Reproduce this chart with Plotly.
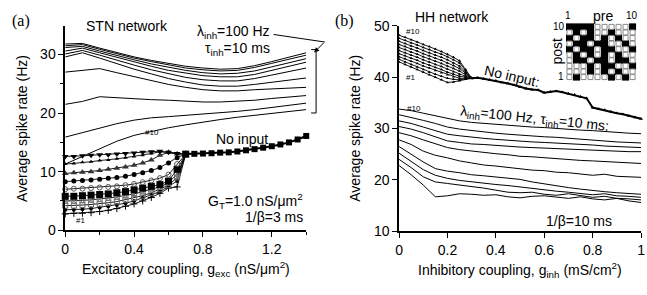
import plotly.graph_objects as go

W, H = 647, 295
FONT = "Liberation Sans, Arial, sans-serif"
SERIF = "Liberation Serif, Times New Roman, serif"

# ---------------- Panel (a) data ----------------
xa_lam = [0, 0.1, 0.2, 0.3, 0.4, 0.5, 0.6, 0.7, 0.8, 0.9, 1.0, 1.1, 1.2, 1.3, 1.4]
a_lam_1 = [11.3, 12.6, 14.0, 15.2, 16.2, 16.9, 17.5, 18.0, 18.5, 18.9, 19.3, 19.6, 19.9, 20.2, 20.6]
a_lam_2 = [15.9, 16.7, 17.5, 18.2, 18.8, 19.2, 19.4, 19.6, 19.8, 20.0, 20.3, 20.6, 21.0, 21.3, 21.7]
a_lam_3 = [21.5, 22.0, 22.8, 22.6, 22.4, 22.3, 22.2, 22.0, 21.9, 21.9, 22.0, 22.2, 22.5, 22.8, 23.0]
a_lam_4 = [27.0, 27.3, 27.6, 26.9, 26.2, 25.5, 24.9, 24.4, 24.0, 23.8, 23.8, 24.0, 24.1, 24.3, 24.4]
a_lam_5 = [29.6, 30.3, 29.4, 28.4, 27.5, 26.7, 25.9, 25.3, 24.8, 24.6, 24.6, 24.9, 25.3, 25.7, 26.0]
a_lam_6 = [30.1, 30.7, 29.9, 29.0, 28.2, 27.4, 26.7, 26.1, 25.7, 25.5, 25.5, 25.9, 26.5, 27.1, 27.7]
a_lam_7 = [30.6, 31.1, 30.3, 29.5, 28.7, 28.0, 27.3, 26.8, 26.4, 26.2, 26.2, 26.6, 27.3, 28.0, 28.7]
a_lam_8 = [31.2, 31.4, 30.6, 29.8, 29.1, 28.4, 27.8, 27.3, 26.9, 26.7, 26.8, 27.2, 27.9, 28.6, 29.3]
a_lam_9 = [31.5, 31.7, 30.9, 30.1, 29.4, 28.8, 28.2, 27.7, 27.4, 27.2, 27.3, 27.8, 28.5, 29.2, 29.9]
a_lam_10 = [31.8, 31.9, 31.1, 30.3, 29.6, 29.0, 28.5, 28.0, 27.7, 27.5, 27.6, 28.1, 28.8, 29.5, 30.3]
a_lam = [a_lam_1, a_lam_2, a_lam_3, a_lam_4, a_lam_5, a_lam_6, a_lam_7, a_lam_8, a_lam_9, a_lam_10]

xa_noin = [0, 0.05, 0.1, 0.15, 0.2, 0.25, 0.3, 0.35, 0.4, 0.45, 0.5, 0.55, 0.6, 0.65, 0.7]
a_noin_1 = [2.8, 2.9, 2.9, 3.0, 3.2, 3.4, 3.7, 4.1, 4.5, 5.0, 5.6, 6.3, 7.2, 7.4, 13.0]
a_noin_2 = [3.5, 3.5, 3.6, 3.7, 3.9, 4.1, 4.3, 4.6, 5.0, 5.5, 6.0, 6.6, 7.5, 8.4, 13.0]
a_noin_3 = [4.2, 4.2, 4.3, 4.4, 4.5, 4.7, 4.9, 5.2, 5.5, 5.9, 6.4, 7.0, 7.7, 9.0, 13.0]
a_noin_4 = [5.0, 5.0, 5.1, 5.2, 5.3, 5.5, 5.7, 5.9, 6.2, 6.6, 7.0, 7.4, 8.1, 9.6, 13.0]
a_noin_5 = [5.8, 5.8, 5.9, 6.0, 6.1, 6.2, 6.4, 6.6, 6.9, 7.2, 7.5, 7.8, 8.4, 10.4, 13.0]
a_noin_6 = [7.0, 7.1, 7.1, 7.2, 7.3, 7.4, 7.5, 7.7, 7.9, 8.2, 8.5, 8.9, 9.5, 11.3, 13.0]
a_noin_7 = [8.3, 8.4, 8.5, 8.6, 8.7, 8.9, 9.0, 9.2, 9.5, 9.8, 10.2, 10.7, 11.5, 12.4, 13.0]
a_noin_8 = [9.7, 9.8, 9.9, 10.0, 10.2, 10.4, 10.6, 10.8, 11.1, 11.5, 12.0, 12.8, 13.3, 13.0, 13.0]
a_noin_9 = [11.3, 11.4, 11.6, 11.7, 11.9, 12.0, 12.2, 12.4, 12.6, 12.8, 13.1, 13.4, 13.3, 13.1, 13.0]
a_noin_10 = [12.6, 12.6, 12.7, 12.8, 12.9, 12.9, 13.0, 13.1, 13.2, 13.3, 13.4, 13.5, 13.3, 13.1, 13.0]
a_noin = [a_noin_1, a_noin_2, a_noin_3, a_noin_4, a_noin_5, a_noin_6, a_noin_7, a_noin_8, a_noin_9, a_noin_10]

xa_common = [0.7, 0.75, 0.8, 0.85, 0.9, 0.95, 1.0, 1.05, 1.1, 1.15, 1.2, 1.25, 1.3, 1.35, 1.4]
a_common = [13.0, 13.05, 13.1, 13.15, 13.25, 13.3, 13.45, 13.65, 13.85, 14.1, 14.35, 14.65, 15.0, 15.5, 16.1]

# ---------------- Panel (b) data ----------------
xb_noin = [0, 0.025, 0.05, 0.075, 0.1, 0.125, 0.15, 0.175, 0.2, 0.225, 0.25, 0.275, 0.3]
b_noin_1 = [43.0, 42.5, 42.0, 41.5, 41.0, 40.5, 40.0, 39.5, 39.0, 39.1, 39.3, 39.6, 39.8]
b_noin_2 = [43.5, 43.0, 42.5, 42.0, 41.5, 41.0, 40.6, 40.2, 39.8, 39.6, 39.5, 39.7, 39.8]
b_noin_3 = [44.0, 43.6, 43.1, 42.7, 42.2, 41.8, 41.3, 40.9, 40.5, 40.1, 39.8, 39.8, 39.8]
b_noin_4 = [44.6, 44.2, 43.7, 43.3, 42.8, 42.4, 41.9, 41.5, 41.0, 40.6, 40.2, 40.0, 39.8]
b_noin_5 = [45.2, 44.8, 44.3, 43.9, 43.4, 43.0, 42.5, 42.1, 41.6, 41.1, 40.6, 40.2, 39.8]
b_noin_6 = [45.8, 45.4, 44.9, 44.5, 44.0, 43.6, 43.1, 42.7, 42.2, 41.7, 41.2, 40.5, 39.8]
b_noin_7 = [46.4, 46.0, 45.5, 45.1, 44.6, 44.2, 43.7, 43.3, 42.8, 42.3, 41.7, 40.8, 39.8]
b_noin_8 = [47.0, 46.6, 46.1, 45.7, 45.2, 44.8, 44.3, 43.9, 43.4, 42.8, 42.2, 41.0, 39.8]
b_noin_9 = [47.6, 47.2, 46.7, 46.3, 45.8, 45.4, 44.9, 44.5, 44.0, 43.4, 42.8, 41.3, 39.8]
b_noin_10 = [48.2, 47.8, 47.3, 46.9, 46.4, 46.0, 45.5, 45.0, 44.5, 43.9, 43.2, 41.5, 39.8]
b_noin = [b_noin_1, b_noin_2, b_noin_3, b_noin_4, b_noin_5, b_noin_6, b_noin_7, b_noin_8, b_noin_9, b_noin_10]

xb_common = [0.3, 0.325, 0.35, 0.375, 0.4, 0.425, 0.45, 0.475, 0.5, 0.525, 0.55, 0.575, 0.6, 0.625,
             0.65, 0.675, 0.7, 0.725, 0.75, 0.775, 0.8, 0.825, 0.85, 0.875, 0.9, 0.925, 0.95, 0.975, 1.0]
b_common = [39.8, 39.9, 39.7, 39.5, 39.3, 39.0, 38.8, 38.5, 38.1, 37.8, 37.6, 37.5, 37.0, 37.2,
            37.3, 37.1, 36.8, 36.6, 36.2, 35.9, 34.1, 33.8, 33.6, 33.3, 33.0, 32.8, 32.5, 32.2, 31.9]

xb_lam = [0, 0.05, 0.1, 0.15, 0.2, 0.25, 0.3, 0.35, 0.4, 0.45, 0.5, 0.55, 0.6, 0.65, 0.7, 0.75,
          0.8, 0.85, 0.9, 0.95, 1.0]
b_lam_1 = [22.8, 21.0, 19.0, 16.7, 16.9, 17.3, 17.2, 17.0, 17.1, 16.7, 16.5, 16.8, 16.9, 16.6, 16.4, 16.7, 16.3, 16.1, 16.4, 15.9, 15.6]
b_lam_2 = [24.0, 22.4, 20.6, 19.6, 19.3, 19.0, 18.8, 18.4, 18.0, 17.6, 17.5, 17.6, 17.2, 17.0, 17.3, 16.9, 16.6, 16.8, 16.4, 16.3, 16.1]
b_lam_3 = [25.2, 23.6, 22.0, 20.9, 20.3, 19.9, 19.6, 19.4, 19.1, 18.9, 18.6, 18.3, 18.0, 17.8, 17.6, 17.4, 17.1, 17.3, 16.9, 16.8, 16.6]
b_lam_4 = [26.5, 25.0, 23.5, 22.2, 21.7, 21.4, 21.0, 20.8, 20.6, 20.4, 20.1, 19.6, 19.2, 18.8, 18.5, 18.2, 17.9, 17.7, 17.5, 17.3, 17.2]
b_lam_5 = [27.8, 26.9, 25.6, 24.8, 24.3, 23.7, 23.3, 22.9, 22.7, 22.4, 22.2, 21.9, 21.8, 21.5, 21.4, 21.2, 20.9, 21.1, 20.7, 20.6, 20.5]
b_lam_6 = [29.2, 28.6, 27.8, 27.0, 26.3, 25.9, 25.6, 25.4, 25.1, 24.9, 24.6, 24.5, 24.3, 24.2, 24.0, 23.8, 23.7, 23.6, 23.4, 23.3, 23.2]
b_lam_7 = [30.4, 29.9, 29.2, 28.4, 27.6, 27.3, 27.0, 26.9, 26.7, 26.5, 26.4, 26.3, 26.2, 26.1, 25.9, 25.8, 25.8, 25.6, 25.6, 25.5, 25.5]
b_lam_8 = [31.5, 31.0, 30.3, 29.6, 28.9, 28.6, 28.3, 28.1, 27.9, 27.7, 27.6, 27.4, 27.3, 27.2, 27.0, 26.9, 26.8, 26.6, 26.5, 26.4, 26.3]
b_lam_9 = [32.7, 32.2, 31.6, 31.0, 30.3, 29.9, 29.6, 29.3, 29.1, 28.9, 28.7, 28.6, 28.4, 28.3, 28.1, 27.9, 27.8, 27.6, 27.4, 27.3, 27.2]
b_lam_10 = [33.8, 33.5, 33.0, 32.5, 31.9, 31.5, 31.2, 31.0, 30.8, 30.6, 30.5, 30.3, 30.2, 30.0, 29.9, 29.7, 29.6, 29.4, 29.3, 29.1, 29.0]
b_lam = [b_lam_1, b_lam_2, b_lam_3, b_lam_4, b_lam_5, b_lam_6, b_lam_7, b_lam_8, b_lam_9, b_lam_10]

# connectivity matrix, rows post = 10 (top) ... 1 (bottom), columns pre = 1..10
conn_rows = [
    [1, 1, 1, 1, 0, 0, 0, 0, 0, 1],  # post 10
    [0, 1, 0, 1, 0, 0, 1, 0, 0, 0],  # post 9
    [1, 0, 1, 1, 0, 1, 0, 1, 0, 0],  # post 8
    [0, 1, 1, 0, 1, 1, 0, 0, 1, 0],  # post 7
    [1, 0, 1, 1, 0, 1, 1, 0, 0, 1],  # post 6
    [0, 1, 0, 1, 0, 1, 0, 1, 0, 0],  # post 5
    [0, 1, 1, 0, 1, 1, 0, 1, 1, 0],  # post 4
    [0, 0, 0, 1, 0, 1, 1, 0, 0, 1],  # post 3
    [0, 0, 0, 1, 0, 1, 0, 1, 0, 0],  # post 2
    [0, 1, 0, 0, 0, 0, 1, 0, 1, 0],  # post 1
]

# ---------------- figure ----------------
def PX(p):
    return p / W


def PY(p):
    return 1 - p / H


fig = go.Figure()

for ys in a_lam:
    fig.add_trace(go.Scatter(x=xa_lam, y=ys, mode="lines", xaxis="x", yaxis="y",
                             line=dict(color="black", width=1)))

noin_styles = [
    dict(symbol="cross-thin", size=5, color="black", line=dict(width=1, color="black")),
    dict(symbol="circle", size=4, color="black"),
    dict(symbol="square-open", size=5, color="#666", line=dict(width=1, color="#666")),
    dict(symbol="square-x-open", size=5, color="#777", line=dict(width=1, color="#777")),
    dict(symbol="square", size=7, color="black"),
    dict(symbol="circle-open", size=5, color="#555", line=dict(width=1, color="#555")),
    dict(symbol="circle", size=5, color="black"),
    dict(symbol="triangle-up", size=6, color="#333"),
    dict(symbol="triangle-up", size=4, color="black"),
    dict(symbol="triangle-down", size=6, color="black"),
]
for ys, st in zip(a_noin, noin_styles):
    fig.add_trace(go.Scatter(x=xa_noin, y=ys, mode="lines+markers", xaxis="x", yaxis="y",
                             line=dict(color="black", width=0.9), marker=st, cliponaxis=False))

fig.add_trace(go.Scatter(x=xa_common, y=a_common, mode="lines+markers", xaxis="x", yaxis="y",
                         line=dict(color="black", width=2),
                         marker=dict(symbol="square", size=6, color="black"), cliponaxis=False))

for ys in b_lam:
    fig.add_trace(go.Scatter(x=xb_lam, y=ys, mode="lines", xaxis="x2", yaxis="y2",
                             line=dict(color="black", width=1)))

for ys in b_noin:
    fig.add_trace(go.Scatter(x=xb_noin, y=ys, mode="lines+markers", xaxis="x2", yaxis="y2",
                             line=dict(color="black", width=0.9),
                             marker=dict(symbol="triangle-up", size=3, color="black"), cliponaxis=False))

fig.add_trace(go.Scatter(x=xb_common, y=b_common, mode="lines+markers", xaxis="x2", yaxis="y2",
                         line=dict(color="black", width=2),
                         marker=dict(symbol="triangle-up", size=3.5, color="black"), cliponaxis=False))

# connectivity matrix
on_x, on_y, off_x, off_y = [], [], [], []
for i, row in enumerate(conn_rows):
    post = 10 - i
    for j, v in enumerate(row):
        if v:
            on_x.append(j + 1); on_y.append(post)
        else:
            off_x.append(j + 1); off_y.append(post)
fig.add_trace(go.Scatter(x=on_x, y=on_y, mode="markers", xaxis="x3", yaxis="y3",
                         marker=dict(symbol="square", size=7, color="black", line=dict(width=0)),
                         cliponaxis=False))
fig.add_trace(go.Scatter(x=off_x, y=off_y, mode="markers", xaxis="x3", yaxis="y3",
                         marker=dict(symbol="square", size=5, color="white",
                                     line=dict(width=1, color="#888")),
                         cliponaxis=False))

tickfont = dict(family=FONT, size=14, color="black")
axis_common = dict(showline=True, linecolor="black", linewidth=1.5, ticks="outside",
                   ticklen=5, tickwidth=1.2, tickcolor="black", showgrid=False,
                   zeroline=False, tickfont=tickfont, ticklabeloverflow="allow")

fig.update_layout(
    width=W, height=H, margin=dict(l=0, r=0, t=0, b=0),
    paper_bgcolor="white", plot_bgcolor="white", showlegend=False,
    xaxis=dict(domain=[PX(62), PX(306)], range=[0, 1.4], anchor="y",
               tickvals=[0, 0.4, 0.8, 1.2], ticktext=["0", "0.4", "0.8", "1.2"],
               minor=dict(dtick=0.2, ticks="outside", ticklen=3, tickcolor="black"),
               **axis_common),
    yaxis=dict(domain=[PY(235), PY(19.5)], range=[0, 34.8], anchor="x",
               tickvals=[0, 10, 20, 30],
               minor=dict(dtick=5, ticks="outside", ticklen=3, tickcolor="black"),
               **axis_common),
    xaxis2=dict(domain=[PX(400), PX(645)], range=[0, 1], anchor="y2",
                tickvals=[0, 0.2, 0.4, 0.6, 0.8, 1], ticktext=["0", "0.2", "0.4", "0.6", "0.8", "1"],
                **axis_common),
    yaxis2=dict(domain=[PY(236), PY(19)], range=[10, 50], anchor="x2",
                tickvals=[10, 20, 30, 40, 50], **axis_common),
    xaxis3=dict(domain=[PX(569), PX(640)], range=[0.5, 10.5], anchor="y3",
                visible=False, fixedrange=True),
    yaxis3=dict(domain=[PY(76), PY(17)], range=[0.5, 10.5], anchor="x3",
                visible=False, fixedrange=True),
)

ann = []


def txt(text, x, y, size=14, family=FONT, angle=0, xanchor="center", yanchor="middle"):
    ann.append(dict(text=text, x=PX(x), y=PY(y), xref="paper", yref="paper", showarrow=False,
                    font=dict(family=family, size=size, color="black"), textangle=angle,
                    xanchor=xanchor, yanchor=yanchor))


# panel (a)
txt("(a)", 17, 14, size=16, family=SERIF)
txt("STN network", 125, 19)
txt("λ<sub>inh</sub>=100 Hz", 271, 25, xanchor="right")
txt("τ<sub>inh</sub>=10 ms", 271, 43, xanchor="right")
txt("#10", 150, 132, size=8)
txt("No input", 241, 138)
txt("#1", 77, 225, size=8)
txt("G<sub>T</sub>=1.0 nS/μm<sup>2</sup>", 305, 204, xanchor="right")
txt("1/β=3 ms", 305, 221, xanchor="right")
txt("Average spike rate (Hz)", 18, 127, angle=-90)
txt("Excitatory coupling, g<sub>exc</sub> (nS/μm<sup>2</sup>)", 184, 276)

# panel (b)
txt("(b)", 345, 14, size=16, family=SERIF)
txt("HH network", 454, 10)
txt("#10", 414, 25, size=8)
txt("#1", 412, 74, size=8)
txt("No input:", 514, 72, angle=13)
txt("#10", 415, 106, size=8)
txt("λ<sub>inh</sub>=100 Hz, τ<sub>inh</sub>=10 ms:", 537, 117, angle=6)
txt("1/β=10 ms", 582, 225)
txt("Average spike rate (Hz)", 356, 127, angle=-90)
txt("Inhibitory coupling, g<sub>inh</sub> (mS/cm<sup>2</sup>)", 522, 277)
txt("post", 559, 46, angle=-90)
txt("pre", 607, 8)
txt("1", 571, 8, size=10)
txt("10", 636, 8, size=10)
txt("10", 562, 20, size=10)
txt("1", 564, 72, size=10)

# arrow from label to bracket
ann.append(dict(x=PX(314), y=PY(47), xref="paper", yref="paper", ax=11, ay=-11,
                showarrow=True, arrowhead=2, arrowsize=1, arrowwidth=1, arrowcolor="black", text=""))
fig.update_layout(annotations=ann)

shapes = [
    dict(type="line", xref="paper", yref="paper", x0=PX(273), y0=PY(28), x1=PX(325), y1=PY(36),
         line=dict(color="black", width=1)),
    dict(type="line", xref="paper", yref="paper", x0=PX(316), y0=PY(44), x1=PX(316), y1=PY(111),
         line=dict(color="black", width=1)),
    dict(type="line", xref="paper", yref="paper", x0=PX(311), y0=PY(44), x1=PX(316), y1=PY(44),
         line=dict(color="black", width=1)),
    dict(type="line", xref="paper", yref="paper", x0=PX(311), y0=PY(111), x1=PX(316), y1=PY(111),
         line=dict(color="black", width=1)),
]
fig.update_layout(shapes=shapes)

fig.write_html("out.html", config={"displayModeBar": False},
               post_script="document.body.style.margin='0';document.body.style.overflow='hidden';")
